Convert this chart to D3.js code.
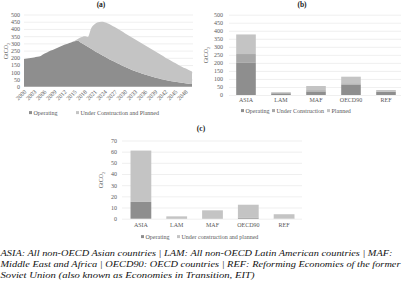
<!DOCTYPE html>
<html>
<head>
<meta charset="utf-8">
<script src="https://cdn.jsdelivr.net/npm/d3@7"></script>
<style>
	body{margin:0;background:#fff;}
	svg text{font-family:"Liberation Serif", "DejaVu Serif", serif;fill:#595959;}
	.grid line{stroke:#e4e4e4;stroke-width:0.6;}
	.grid .domain{display:none;}
	.axis .domain{display:none;}
	.axis line{display:none;}
	.title{font-weight:bold;fill:#222;}
	svg text.caption{font-style:italic;fill:#111;}
</style>
</head>
<body>
<script>
//chart (a) - yearly capacity
var years =d3.range(2000, 2051);
var aOperating =[192,195,199,203,207,213,228,238,250,260,270,280,290,298,306,314,318,304,290,276,
	262,248,235,222,209,196,184,172,160,149,138,128,118,109,100,92,84,77,70,64,
	58,52,47,42,38,34,30,27,24,21,19];
var aPlanned =[0,0,0,0,0,0,0,0,0,0,0,0,0,0,0,2,12,38,60,69,
	143,184,211,228,238,242,242,241,239,236,233,229,225,220,215,209,203,196,189,181,
	173,165,156,148,139,130,121,112,103,95,86];
var aTicks =[2000,2003,2006,2009,2012,2015,2018,2021,2024,2027,2030,2033,2036,2039,2042,2045,2048];

//chart (b) - by region
var regions =["ASIA", "LAM", "MAF", "OECD90", "REF"];
var bOperating =[200, 10, 22, 65, 20];
var bConstruction =[55, 3, 8, 8, 3];
var bPlanned =[122, 5, 26, 41, 8];

//chart (c)
var cOperating =[15, 0.3, 0.3, 1, 0.2];
var cPlanned =[46, 1.8, 7.2, 11.5, 3.8];

var cDark ="#8e8e8e", cMid ="#a8a8a8", cLight ="#c4c4c4";

var svg =d3.select("body").append("svg")
	.attr("width", 402)
	.attr("height", 284);

function yLabel(x, y){
	svg.append("text")
		.attr("transform", "translate(" + x + "," + y + ") rotate(-90)")
		.attr("text-anchor", "middle")
		.style("font-size", "6px")
		.html("GtCO<tspan font-size='4.2px' dy='1.5'>2</tspan>");
}

function legend(items, y){
	items.forEach(function(l){
		svg.append("rect").attr("x", l[2]).attr("y", y - 3.4).attr("width", 3).attr("height", 3).style("fill", l[1]);
		svg.append("text").attr("x", l[2] + 4.5).attr("y", y).style("font-size", "6px").text(l[0]);
	});
}

//---------- (a)
(function(){
	var x =d3.scaleLinear().domain([2000, 2050]).range([24, 192]);
	var y =d3.scaleLinear().domain([0, 500]).range([86.7, 14.5]);

	svg.append("g").attr("class", "grid")
		.attr("transform", "translate(24,0)")
		.call(d3.axisLeft(y).tickValues(d3.range(50, 501, 50)).tickSize(-169).tickFormat(""));

	var rows =years.map(function(yr, i){
		return {year: yr, op: aOperating[i], pl: aPlanned[i]};
	});
	var stack =d3.stack().keys(["op", "pl"])(rows);
	var area =d3.area()
		.x(function(d){ return x(d.data.year); })
		.y0(function(d){ return y(d[0]); })
		.y1(function(d){ return y(d[1]); })
		.curve(d3.curveMonotoneX);
	svg.selectAll(".areaA")
		.data(stack)
		.enter()
		.append("path")
		.attr("d", area)
		.style("fill", function(d, i){ return i == 0 ? cDark : cLight; });

	var ya =svg.append("g").attr("class", "axis")
		.attr("transform", "translate(20,0)")
		.call(d3.axisLeft(y).tickValues(d3.range(0, 501, 50)).tickSize(0).tickPadding(0));
	ya.selectAll("text").style("font-size", "6px");

	var xa =svg.append("g").attr("class", "axis")
		.attr("transform", "translate(0,89)")
		.call(d3.axisBottom(x).tickValues(aTicks).tickFormat(d3.format("d")).tickSize(0).tickPadding(0));
	xa.selectAll("text")
		.style("font-size", "6px")
		.style("text-anchor", "end")
		.attr("dy", "0.3em")
		.attr("transform", "translate(1,2) rotate(-45)");

	svg.append("text").attr("class", "title")
		.attr("x", 101).attr("y", 7)
		.attr("text-anchor", "middle")
		.style("font-size", "7.5px")
		.text("(a)");

	yLabel(8, 51);
	legend([["Operating", cDark, 29], ["Under Construction and Planned", cLight, 76]], 114.5);
})();

//---------- (b)
(function(){
	var x =d3.scaleBand().domain(regions).range([228.5, 403.5]).paddingInner(0.44).paddingOuter(0.22);
	var y =d3.scaleLinear().domain([0, 500]).range([95, 14.7]);

	svg.append("g").attr("class", "grid")
		.attr("transform", "translate(229,0)")
		.call(d3.axisLeft(y).tickValues(d3.range(0, 501, 50)).tickSize(-172).tickFormat(""));

	var rows =regions.map(function(r, i){
		return {region: r, op: bOperating[i], uc: bConstruction[i], pl: bPlanned[i]};
	});
	var stack =d3.stack().keys(["op", "uc", "pl"])(rows);
	var cols =[cDark, cMid, cLight];
	svg.selectAll(".layerB")
		.data(stack)
		.enter()
		.append("g")
		.style("fill", function(d, i){ return cols[i]; })
		.selectAll("rect")
		.data(function(d){ return d; })
		.enter()
		.append("rect")
		.attr("x", function(d){ return x(d.data.region); })
		.attr("width", x.bandwidth())
		.attr("y", function(d){ return y(d[1]); })
		.attr("height", function(d){ return y(d[0]) - y(d[1]); });

	var ya =svg.append("g").attr("class", "axis")
		.attr("transform", "translate(223,0)")
		.call(d3.axisLeft(y).tickValues(d3.range(0, 501, 50)).tickSize(0).tickPadding(0));
	ya.selectAll("text").style("font-size", "6px");

	var xa =svg.append("g").attr("class", "axis")
		.attr("transform", "translate(0,98)")
		.call(d3.axisBottom(x).tickSize(0).tickPadding(0));
	xa.selectAll("text").style("font-size", "6px");

	svg.append("text").attr("class", "title")
		.attr("x", 302).attr("y", 7)
		.attr("text-anchor", "middle")
		.style("font-size", "7.5px")
		.text("(b)");

	yLabel(208, 55);
	legend([["Operating", cDark, 241], ["Under Construction", cMid, 272], ["Planned", cLight, 327]], 112.5);
})();

//---------- (c)
(function(){
	var x =d3.scaleBand().domain(regions).range([123, 302]).paddingInner(0.42).paddingOuter(0.21);
	var y =d3.scaleLinear().domain([0, 70]).range([218.7, 140.5]);

	svg.append("g").attr("class", "grid")
		.attr("transform", "translate(122,0)")
		.call(d3.axisLeft(y).tickValues(d3.range(0, 71, 10)).tickSize(-180).tickFormat(""));

	var rows =regions.map(function(r, i){
		return {region: r, op: cOperating[i], pl: cPlanned[i]};
	});
	var stack =d3.stack().keys(["op", "pl"])(rows);
	var cols =[cDark, cLight];
	svg.selectAll(".layerC")
		.data(stack)
		.enter()
		.append("g")
		.style("fill", function(d, i){ return cols[i]; })
		.selectAll("rect")
		.data(function(d){ return d; })
		.enter()
		.append("rect")
		.attr("x", function(d){ return x(d.data.region); })
		.attr("width", x.bandwidth())
		.attr("y", function(d){ return y(d[1]); })
		.attr("height", function(d){ return y(d[0]) - y(d[1]); });

	var ya =svg.append("g").attr("class", "axis")
		.attr("transform", "translate(117,0)")
		.call(d3.axisLeft(y).tickValues(d3.range(0, 71, 10)).tickSize(0).tickPadding(0));
	ya.selectAll("text").style("font-size", "6px");

	var xa =svg.append("g").attr("class", "axis")
		.attr("transform", "translate(0,223)")
		.call(d3.axisBottom(x).tickSize(0).tickPadding(0));
	xa.selectAll("text").style("font-size", "6px");

	svg.append("text").attr("class", "title")
		.attr("x", 201).attr("y", 131)
		.attr("text-anchor", "middle")
		.style("font-size", "7.5px")
		.text("(c)");

	yLabel(103, 180);
	legend([["Operating", cDark, 141], ["Under construction and planned", cLight, 177]], 238.5);
})();

//---------- caption
var captionLines =[
	["ASIA: All non-OECD Asian countries | LAM: All non-OECD Latin American countries | MAF:", 392],
	["Middle East and Africa | OECD90: OECD countries | REF: Reforming Economies of the former", 400],
	["Soviet Union (also known as Economies in Transition, EIT)", 254]
];
captionLines.forEach(function(l, i){
	svg.append("text").attr("class", "caption")
		.attr("x", 0.5).attr("y", 256 + i * 11)
		.attr("textLength", l[1])
		.attr("lengthAdjust", "spacingAndGlyphs")
		.style("font-size", "9.2px")
		.text(l[0]);
});
</script>
</body>
</html>
